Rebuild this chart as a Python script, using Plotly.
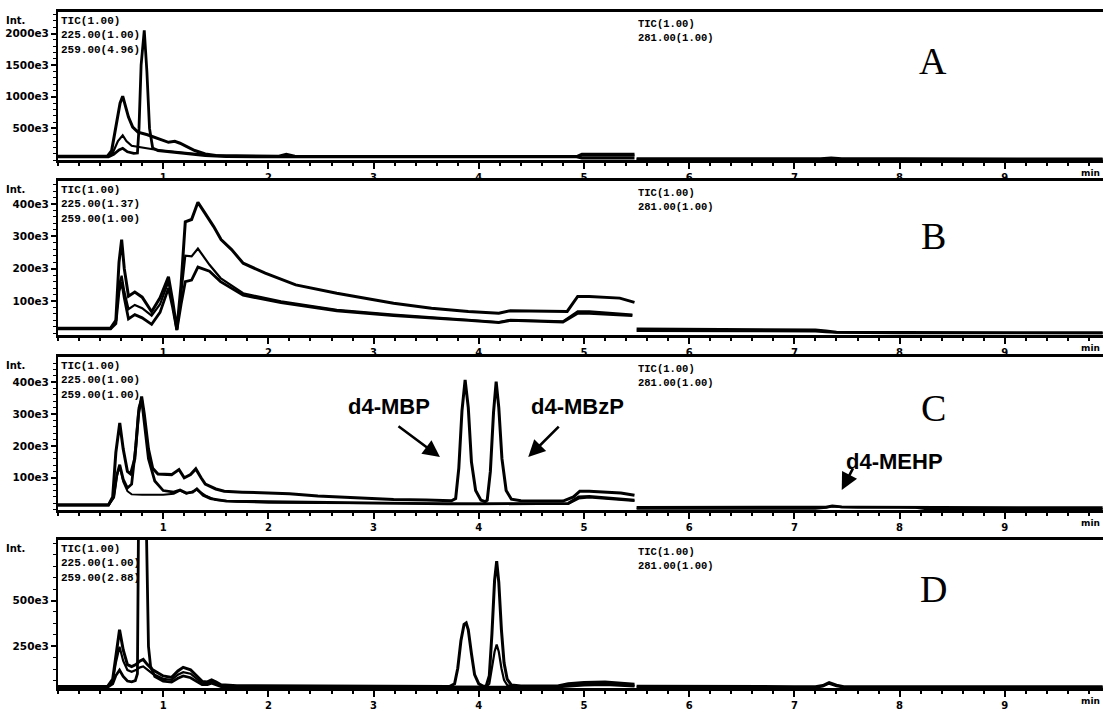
import plotly.graph_objects as go

# ---------------- data (time in min, intensity in units of 1e3) ----------------
# Panel A
A_tic_t = [0.00, 0.47, 0.51, 0.56, 0.59, 0.615, 0.64, 0.67, 0.71, 0.76, 0.85, 0.95, 1.05, 1.11, 1.16, 1.22, 1.30, 1.40, 1.50, 2.10, 2.17, 2.25, 3.00, 4.00, 4.93, 4.98, 5.48]
A_tic_v = [60, 60, 150, 600, 900, 1010, 870, 680, 520, 440, 400, 340, 280, 295, 265, 215, 150, 95, 70, 60, 90, 60, 55, 55, 55, 90, 90]
A_225_t = [0.00, 0.47, 0.52, 0.57, 0.615, 0.65, 0.70, 0.76, 0.82, 0.90, 1.00, 1.20, 1.40, 1.60, 2.00, 3.00, 4.00, 4.93, 4.98, 5.48]
A_225_v = [55, 55, 110, 300, 390, 300, 225, 205, 190, 170, 150, 115, 80, 60, 55, 52, 52, 52, 70, 70]
A_259_t = [0.00, 0.48, 0.53, 0.58, 0.615, 0.66, 0.72, 0.755, 0.77, 0.79, 0.82, 0.845, 0.87, 0.90, 0.95, 1.05, 1.20, 1.40, 1.60, 2.00, 3.00, 4.00, 4.93, 4.98, 5.48]
A_259_v = [50, 50, 90, 160, 185, 130, 105, 110, 500, 1500, 2050, 1400, 500, 190, 150, 130, 100, 70, 55, 50, 50, 50, 50, 30, 30]
A_r_t = [5.50, 6.00, 7.00, 7.25, 7.35, 7.45, 8.00, 9.00, 9.93]
A_r_tic = [22, 22, 20, 20, 35, 22, 20, 18, 18]
A_r_281 = [12, 12, 10, 10, 16, 11, 10, 10, 10]

# Panel B
B_tic_t = [0.00, 0.50, 0.55, 0.58, 0.605, 0.63, 0.67, 0.73, 0.80, 0.89, 0.97, 1.05, 1.09, 1.13, 1.17, 1.21, 1.27, 1.33, 1.40, 1.48, 1.55, 1.65, 1.76, 1.97, 2.26, 2.65, 3.19, 3.55, 3.90, 4.19, 4.30, 4.62, 4.84, 4.94, 5.05, 5.34, 5.48]
B_tic_v = [16, 16, 40, 220, 290, 200, 115, 128, 112, 67, 110, 175, 100, 12, 150, 345, 352, 405, 370, 330, 290, 259, 217, 186, 150, 124, 93, 78, 68, 62, 70, 68, 68, 114, 114, 109, 96]
B_225_t = [0.00, 0.50, 0.55, 0.58, 0.605, 0.63, 0.67, 0.73, 0.80, 0.89, 0.97, 1.05, 1.09, 1.13, 1.17, 1.21, 1.27, 1.33, 1.44, 1.545, 1.76, 2.12, 2.65, 3.19, 3.90, 4.19, 4.30, 4.80, 4.94, 5.05, 5.46]
B_225_v = [16, 16, 35, 150, 178, 130, 75, 88, 78, 55, 90, 160, 90, 12, 120, 240, 238, 262, 212, 171, 124, 99, 73, 58, 42, 35, 42, 37, 68, 68, 58]
B_259_t = [0.00, 0.50, 0.55, 0.58, 0.605, 0.63, 0.67, 0.73, 0.80, 0.89, 0.97, 1.05, 1.09, 1.13, 1.17, 1.21, 1.27, 1.33, 1.44, 1.545, 1.76, 2.12, 2.65, 3.19, 3.90, 4.19, 4.30, 4.80, 4.94, 5.05, 5.46]
B_259_v = [14, 14, 30, 130, 160, 110, 45, 58, 48, 28, 65, 140, 80, 10, 90, 160, 165, 205, 192, 160, 118, 95, 70, 55, 40, 33, 40, 35, 62, 62, 55]
B_r_t = [5.50, 6.50, 7.00, 7.20, 7.30, 7.40, 8.00, 9.00, 9.93]
B_r_tic = [14, 13, 12, 11, 8, 4, 3, 2, 2]
B_r_281 = [8, 8, 7, 6, 4, 2, 1, 1, 1]

# Panel C
C_tic_t = [0.00, 0.48, 0.52, 0.55, 0.587, 0.62, 0.66, 0.69, 0.73, 0.765, 0.795, 0.82, 0.86, 0.90, 0.95, 1.01, 1.08, 1.15, 1.20, 1.26, 1.31, 1.36, 1.40, 1.50, 1.58, 1.75, 1.94, 2.20, 2.47, 2.80, 3.19, 3.50, 3.74, 3.78, 3.81, 3.84, 3.87, 3.90, 3.93, 3.97, 4.02, 4.06, 4.08, 4.11, 4.14, 4.165, 4.19, 4.22, 4.26, 4.31, 4.40, 4.60, 4.80, 4.90, 4.96, 5.05, 5.20, 5.35, 5.48]
C_tic_v = [15, 15, 40, 180, 272, 190, 120, 112, 160, 300, 355, 300, 190, 130, 112, 112, 110, 126, 100, 110, 128, 100, 80, 65, 58, 55, 53, 50, 43, 38, 32, 30, 28, 35, 130, 310, 407, 320, 150, 60, 30, 25, 30, 120, 305, 402, 320, 160, 60, 33, 28, 27, 27, 40, 58, 58, 55, 52, 45]
C_225_t = [0.00, 0.48, 0.53, 0.56, 0.587, 0.62, 0.66, 0.70, 0.74, 0.77, 0.795, 0.82, 0.86, 0.92, 1.00, 1.10, 1.16, 1.22, 1.28, 1.32, 1.38, 1.45, 1.60, 2.00, 3.00, 3.70, 4.00, 4.50, 4.85, 4.95, 5.05, 5.48]
C_225_v = [15, 15, 40, 110, 141, 95, 68, 80, 200, 320, 345, 280, 160, 90, 60, 55, 62, 52, 55, 65, 45, 35, 27, 25, 20, 18, 18, 18, 20, 40, 42, 30]
C_259_t = [0.00, 0.48, 0.53, 0.56, 0.587, 0.62, 0.66, 0.70, 0.80, 0.90, 1.00, 1.10, 1.16, 1.22, 1.32, 1.40, 1.50, 1.70, 2.00, 3.00, 4.00, 4.85, 4.95, 5.05, 5.48]
C_259_v = [14, 14, 38, 105, 135, 88, 58, 48, 47, 47, 47, 50, 60, 50, 62, 45, 30, 25, 22, 20, 18, 18, 35, 38, 27]
C_r_t = [5.50, 7.20, 7.30, 7.36, 7.45, 7.60, 8.00, 8.15, 8.25, 9.93]
C_r_tic = [7, 7, 8, 12, 9, 8, 8, 7, 6, 6]
C_r_281 = [3, 3, 6, 10, 8, 7, 7, 6, 2, 2]

# Panel D
D_tic_t = [0.00, 0.47, 0.52, 0.55, 0.585, 0.62, 0.66, 0.70, 0.74, 0.78, 0.81, 0.85, 0.90, 1.00, 1.08, 1.14, 1.19, 1.26, 1.32, 1.37, 1.42, 1.46, 1.50, 1.55, 1.70, 2.50, 3.50, 3.72, 3.77, 3.80, 3.83, 3.86, 3.88, 3.90, 3.93, 3.96, 4.00, 4.04, 4.07, 4.10, 4.125, 4.15, 4.17, 4.19, 4.215, 4.24, 4.27, 4.31, 4.40, 4.60, 4.75, 4.85, 5.00, 5.20, 5.35, 5.48]
D_tic_v = [30, 30, 70, 200, 340, 230, 150, 139, 150, 170, 178, 150, 122, 88, 80, 115, 135, 122, 90, 58, 55, 66, 55, 40, 34, 32, 30, 30, 45, 130, 280, 370, 378, 340, 210, 95, 45, 33, 32, 90, 320, 610, 715, 600, 340, 160, 70, 38, 33, 32, 33, 45, 52, 55, 50, 42]
D_225_t = [0.00, 0.47, 0.52, 0.55, 0.585, 0.62, 0.66, 0.70, 0.74, 0.78, 0.81, 0.85, 0.90, 1.00, 1.08, 1.14, 1.19, 1.26, 1.32, 1.37, 1.42, 1.46, 1.50, 1.55, 1.70, 2.50, 3.50, 4.07, 4.10, 4.125, 4.15, 4.17, 4.19, 4.215, 4.24, 4.27, 4.31, 4.40, 4.60, 4.75, 4.85, 5.00, 5.20, 5.35, 5.48]
D_225_v = [28, 28, 60, 160, 248, 170, 120, 111, 120, 135, 140, 120, 100, 72, 66, 95, 108, 100, 72, 48, 46, 56, 46, 34, 30, 29, 28, 28, 45, 130, 220, 259, 220, 130, 65, 38, 30, 28, 28, 29, 36, 42, 45, 40, 35]
D_259_t = [0.00, 0.47, 0.52, 0.55, 0.585, 0.62, 0.66, 0.70, 0.735, 0.755, 0.765, 0.78, 0.80, 0.82, 0.84, 0.86, 0.88, 0.92, 1.00, 1.08, 1.14, 1.19, 1.26, 1.32, 1.37, 1.42, 1.46, 1.50, 1.55, 1.70, 2.50, 3.50, 4.50, 4.75, 4.85, 5.00, 5.20, 5.35, 5.48]
D_259_v = [26, 26, 45, 90, 120, 85, 60, 56, 62, 100, 900, 1800, 2200, 1800, 900, 250, 140, 85, 60, 54, 75, 88, 78, 55, 40, 40, 48, 40, 30, 27, 26, 26, 26, 28, 33, 38, 40, 36, 32]
D_r_t = [5.50, 6.00, 7.00, 7.20, 7.27, 7.33, 7.40, 7.47, 8.00, 9.00, 9.93]
D_r_tic = [32, 30, 30, 30, 36, 52, 38, 30, 30, 29, 29]
D_r_281 = [26, 25, 25, 25, 30, 46, 32, 25, 25, 25, 25]

# Axis labels / texts
panel_letters = ["A", "B", "C", "D"]
y_tick_vals = [[500, 1000, 1500, 2000], [100, 200, 300, 400], [100, 200, 300, 400], [250, 500]]
y_tick_text = [["500e3", "1000e3", "1500e3", "2000e3"], ["100e3", "200e3", "300e3", "400e3"],
               ["100e3", "200e3", "300e3", "400e3"], ["250e3", "500e3"]]
y_minor_step = [100, 20, 20, 62.5]
y_ranges = [[0, 2342], [-5, 471], [-1, 479], [22, 831]]
x_tick_vals = [1, 2, 3, 4, 5, 6, 7, 8, 9]
x_tick_text = ["1", "2", "3", "4", "5", "6", "7", "8", "9"]
left_ion_text = [["TIC(1.00)", "225.00(1.00)", "259.00(4.96)"],
                 ["TIC(1.00)", "225.00(1.37)", "259.00(1.00)"],
                 ["TIC(1.00)", "225.00(1.00)", "259.00(1.00)"],
                 ["TIC(1.00)", "225.00(1.00)", "259.00(2.88)"]]
right_ion_text = ["TIC(1.00)", "281.00(1.00)"]

series = [
    [(A_tic_t, A_tic_v, 3.0), (A_225_t, A_225_v, 2.2), (A_259_t, A_259_v, 2.8), (A_r_t, A_r_tic, 2.8), (A_r_t, A_r_281, 2.2)],
    [(B_tic_t, B_tic_v, 3.0), (B_225_t, B_225_v, 2.2), (B_259_t, B_259_v, 2.8), (B_r_t, B_r_tic, 2.8), (B_r_t, B_r_281, 2.2)],
    [(C_tic_t, C_tic_v, 3.0), (C_225_t, C_225_v, 2.8), (C_259_t, C_259_v, 2.0), (C_r_t, C_r_tic, 2.8), (C_r_t, C_r_281, 2.2)],
    [(D_tic_t, D_tic_v, 3.0), (D_225_t, D_225_v, 2.2), (D_259_t, D_259_v, 2.8), (D_r_t, D_r_tic, 2.8), (D_r_t, D_r_281, 2.2)],
]

# ---------------- layout geometry ----------------
W, H = 1103, 713
X_LEFT_PX = 58
X_MAX = (W - X_LEFT_PX) / 105.2
panel_px = [(12, 160), (181, 335), (357, 510), (540, 688)]  # top, bottom
letter_px_y = [61, 236, 408, 589]


def py(px):
    return 1 - px / H


def pxx(px):
    return px / W


fig = go.Figure()
annotations = []
layout = dict(width=W, height=H, margin=dict(l=0, r=0, t=0, b=0), paper_bgcolor="white",
              plot_bgcolor="white", showlegend=False)

mono = "Liberation Mono, DejaVu Sans Mono, monospace"
sans = "DejaVu Sans, Liberation Sans, sans-serif"

for i in range(4):
    n = i + 1
    xs = "x" if n == 1 else f"x{n}"
    ys = "y" if n == 1 else f"y{n}"
    top, bot = panel_px[i]
    layout["xaxis" if n == 1 else f"xaxis{n}"] = dict(
        domain=[X_LEFT_PX / W, 1], range=[0, X_MAX], anchor=ys, automargin=False,
        showline=True, linecolor="black", linewidth=2.5, mirror=True,
        ticks="outside", ticklen=6, tickwidth=2, tickcolor="black",
        tickmode="array", tickvals=x_tick_vals, ticktext=x_tick_text,
        tickfont=dict(family=sans, size=10, color="black", weight="bold"),
        minor=dict(ticks="outside", ticklen=3, tickwidth=1.5, tickcolor="black", dtick=0.2, tick0=0),
        showgrid=False, zeroline=False, fixedrange=True)
    layout["yaxis" if n == 1 else f"yaxis{n}"] = dict(
        domain=[py(bot), py(top)], range=y_ranges[i], anchor=xs, automargin=False,
        showline=True, linecolor="black", linewidth=2, mirror=False,
        ticks="outside", ticklen=5, tickwidth=1.5, tickcolor="black",
        tickmode="array", tickvals=y_tick_vals[i], ticktext=y_tick_text[i],
        tickfont=dict(family=sans, size=10.5, color="black", weight="bold"),
        minor=dict(ticks="outside", ticklen=3, tickwidth=1.2, tickcolor="black", dtick=y_minor_step[i], tick0=0),
        showgrid=False, zeroline=False, fixedrange=True)

    for (tt, vv, lw) in series[i]:
        fig.add_trace(go.Scatter(x=tt, y=vv, xaxis=xs, yaxis=ys, mode="lines",
                                 line=dict(color="black", width=lw), hoverinfo="skip"))

    # "Int." label
    annotations.append(dict(xref="paper", yref="paper", x=pxx(4), y=py(top + 8), xanchor="left",
                            yanchor="middle", text="<b>Int.</b>", showarrow=False,
                            font=dict(family=sans, size=10, color="black")))
    # ion texts
    annotations.append(dict(xref="paper", yref="paper", x=pxx(59), y=py(top + 1), xanchor="left",
                            yanchor="top", align="left", text="<b>" + "<br>".join(left_ion_text[i]) + "</b>",
                            showarrow=False, font=dict(family=mono, size=11, color="black")))
    annotations.append(dict(xref="paper", yref="paper", x=pxx(636), y=py(top + 4), xanchor="left",
                            yanchor="top", align="left", text="<b>" + "<br>".join(right_ion_text) + "</b>",
                            showarrow=False, font=dict(family=mono, size=10.5, color="black")))
    # panel letter
    annotations.append(dict(xref="paper", yref="paper", x=pxx(933), y=py(letter_px_y[i]), xanchor="center",
                            yanchor="middle", text=panel_letters[i], showarrow=False,
                            font=dict(family="Liberation Serif, Times New Roman, serif", size=38, color="black")))
    # "min" label
    annotations.append(dict(xref="paper", yref="paper", x=pxx(1102), y=py(bot + 13), xanchor="right",
                            yanchor="middle", text="<b>min</b>", showarrow=False,
                            font=dict(family=sans, size=9, color="black")))

# compound labels in panel C
lab_font = dict(family="Liberation Sans, Arial, sans-serif", size=22, color="black")
for txt, tx, ty in [("d4-MBP", 3.146, 323), ("d4-MBzP", 4.94, 323), ("d4-MEHP", 7.956, 150)]:
    annotations.append(dict(xref="x3", yref="y3", x=tx, y=ty, text="<b>" + txt + "</b>", showarrow=False,
                            xanchor="center", yanchor="middle", font=lab_font))
for hx, hy, ax, ay in [(3.631, 165, -43, -32), (4.47, 165, 32, -32), (7.45, 62, 12, -23)]:
    annotations.append(dict(xref="x3", yref="y3", x=hx, y=hy, text="", showarrow=True, ax=ax, ay=ay,
                            axref="pixel", ayref="pixel", arrowhead=2, arrowsize=1.3, arrowwidth=2.6,
                            arrowcolor="black", standoff=0))

layout["annotations"] = annotations
fig.update_layout(**layout)
fig.write_html("out.html", config={"displayModeBar": False})
